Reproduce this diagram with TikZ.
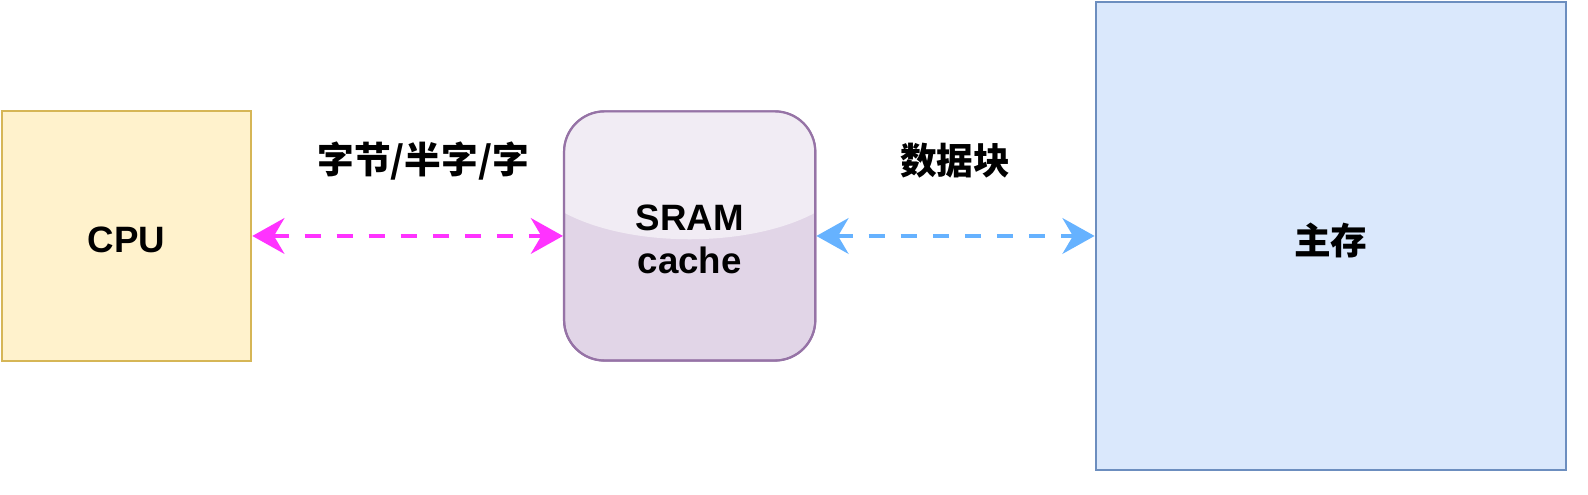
\documentclass[tikz,border=0pt]{standalone}
\usepackage{fontspec}
\setmainfont{Liberation Sans}
\newfontfamily\cjk{Noto Sans CJK SC}
\usetikzlibrary{arrows.meta}
\definecolor{cpuF}{HTML}{FFF2CC}\definecolor{cpuD}{HTML}{D6B656}
\definecolor{srF}{HTML}{E1D5E7}\definecolor{srD}{HTML}{9673A6}
\definecolor{mmF}{HTML}{DAE8FC}\definecolor{mmD}{HTML}{6C8EBF}
\definecolor{mag}{HTML}{FF33FF}\definecolor{blu}{HTML}{66B2FF}
\begin{document}
\begin{tikzpicture}[x=0.01cm,y=-0.01cm,
  lbl/.style={font=\fontsize{10.3pt}{12pt}\selectfont\bfseries},
  box/.style={draw,line width=0.6pt,inner sep=0},
  arr/.style={line width=1.2pt,dash pattern=on 4.5pt off 4.5pt,{Stealth[length=9pt,width=10pt]}-{Stealth[length=9pt,width=10pt]}}]
\useasboundingbox (0,0) rectangle (1568,488);
\node[box,fill=cpuF,draw=cpuD,minimum width=2.46cm,minimum height=2.46cm] (cpu) at (125,233) {};
\node[lbl] at (125,237) {CPU};
\node[box,fill=srF,draw=srD,rounded corners=0.4cm,minimum width=2.48cm,minimum height=2.46cm] (sram) at (681,233) {};
\begin{scope}
\clip[rounded corners=0.4cm] (557,110) rectangle (805,356);
\fill[white,opacity=0.55] (557,110) rectangle (805,210) .. controls (740,245) and (622,245) .. (557,210) -- cycle;
\end{scope}
\draw[srD,line width=0.6pt,rounded corners=0.4cm] (557,110) rectangle (805,356);
\node[lbl,align=center] at (681,236) {SRAM\\cache};
\node[box,fill=mmF,draw=mmD,minimum width=4.64cm,minimum height=4.62cm] (mm) at (1314,233) {};
\node[lbl] at (1314,237) {\cjk\bfseries 主存};
\draw[arr,mag] (cpu.east) -- (sram.west);
\draw[arr,blu] (sram.east) -- (mm.west);
\node[lbl] at (418,159) {\cjk\bfseries 字节/半字/字};
\node[lbl] at (943,159) {\cjk\bfseries 数据块};
\end{tikzpicture}
\end{document}
